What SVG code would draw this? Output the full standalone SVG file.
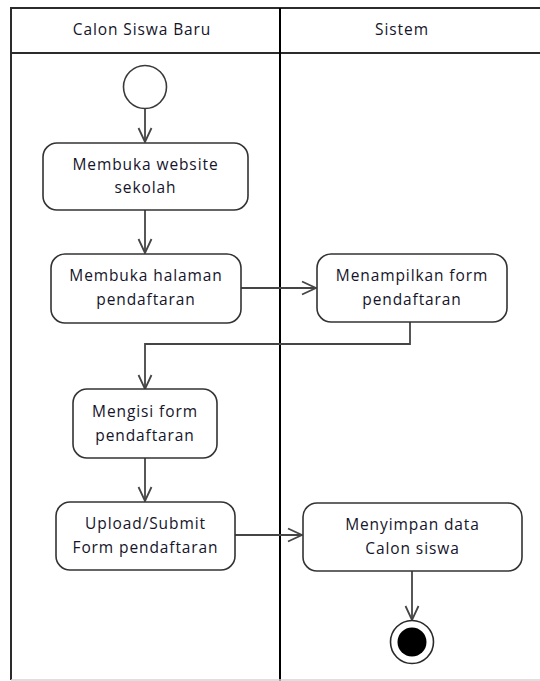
<svg xmlns="http://www.w3.org/2000/svg" width="540" height="681" viewBox="0 0 540 681">
  <style>
    .lane { fill: none; stroke: #2b2b2b; stroke-width: 2; }
    .node { fill: #ffffff; stroke: #333333; stroke-width: 1.6; }
    .label { font-family: "Open Sans", "Liberation Sans", sans-serif; font-size: 15.5px; letter-spacing: 0.9px; fill: #14142a; text-anchor: middle; }
    .flow { fill: none; stroke: #454545; stroke-width: 1.8; }
  </style>
  <defs>
    <marker id="open-arrow" viewBox="0 0 16 16" refX="15" refY="8" markerWidth="16" markerHeight="16" markerUnits="userSpaceOnUse" orient="auto">
      <path d="M1,1.5 L15,8 L1,14.5" fill="none" stroke="#454545" stroke-width="1.8"/>
    </marker>
  </defs>

  <rect width="540" height="681" fill="#ffffff"/>

  <!-- swimlanes -->
  <g id="swimlanes">
    <path class="lane" d="M546,8 H11 V680"/>
    <line class="lane" x1="11" y1="53" x2="546" y2="53"/>
    <line x1="280" y1="8" x2="280" y2="681" stroke="#000" stroke-width="2"/>
    <line x1="11" y1="680" x2="546" y2="680" stroke="#d4d4d4" stroke-width="1.5"/>
    <text class="label" x="142" y="35">Calon Siswa Baru</text>
    <text class="label" x="402" y="35">Sistem</text>
  </g>

  <!-- connectors -->
  <g id="connectors">
    <path class="flow" d="M145,108 V142" marker-end="url(#open-arrow)"/>
    <path class="flow" d="M145,210 V253" marker-end="url(#open-arrow)"/>
    <path class="flow" d="M241,288 H316" marker-end="url(#open-arrow)"/>
    <path class="flow" d="M410,322 V344 H145 V389" marker-end="url(#open-arrow)"/>
    <path class="flow" d="M145,458 V501" marker-end="url(#open-arrow)"/>
    <path class="flow" d="M235,535 H302" marker-end="url(#open-arrow)"/>
    <path class="flow" d="M412,571 V620" marker-end="url(#open-arrow)"/>
  </g>

  <g id="start">
    <circle cx="145" cy="87" r="21.5" fill="#fff" stroke="#3a3a3a" stroke-width="1.6"/>
  </g>

  <g id="buka-website">
    <rect class="node" x="43" y="143" width="205" height="67" rx="14"/>
    <text class="label" x="145.5" y="170">Membuka website</text>
    <text class="label" x="145.5" y="193">sekolah</text>
  </g>

  <g id="buka-halaman">
    <rect class="node" x="51" y="254" width="190" height="69" rx="14"/>
    <text class="label" x="146" y="281">Membuka halaman</text>
    <text class="label" x="146" y="305">pendaftaran</text>
  </g>

  <g id="tampil-form">
    <rect class="node" x="317" y="254" width="190" height="68" rx="14"/>
    <text class="label" x="412" y="281">Menampilkan form</text>
    <text class="label" x="412" y="305">pendaftaran</text>
  </g>

  <g id="isi-form">
    <rect class="node" x="73" y="389" width="144" height="69" rx="14"/>
    <text class="label" x="145" y="417">Mengisi form</text>
    <text class="label" x="145" y="441">pendaftaran</text>
  </g>

  <g id="submit-form">
    <rect class="node" x="56" y="502" width="179" height="68" rx="14"/>
    <text class="label" x="145.5" y="529">Upload/Submit</text>
    <text class="label" x="145.5" y="553">Form pendaftaran</text>
  </g>

  <g id="simpan-data">
    <rect class="node" x="303" y="503" width="219" height="68" rx="14"/>
    <text class="label" x="412.5" y="530">Menyimpan data</text>
    <text class="label" x="412.5" y="554">Calon siswa</text>
  </g>

  <g id="end">
    <circle cx="412" cy="642" r="21.5" fill="#fff" stroke="#2a2a2a" stroke-width="1.6"/>
    <circle cx="412" cy="642" r="14.5" fill="#000"/>
  </g>
</svg>
